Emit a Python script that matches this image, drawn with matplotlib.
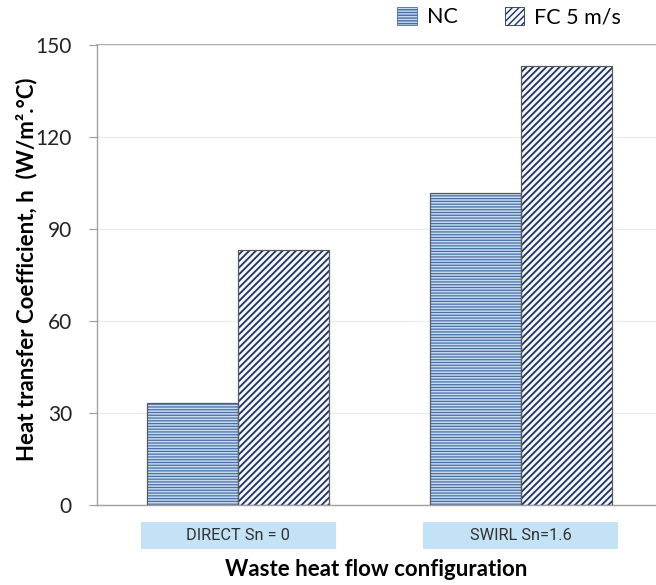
import numpy as np
import matplotlib
matplotlib.use("Agg")
import matplotlib.pyplot as plt
from matplotlib.patches import Rectangle, Patch
from matplotlib.transforms import blended_transform_factory

# data
categories = ["DIRECT Sn = 0", "SWIRL Sn=1.6"]
series = ["NC", "FC 5 m/s"]
nc_vals = [33.3, 101.6]
fc_vals = [83.0, 143.0]
y_ticks = [0, 30, 60, 90, 120, 150]

plt.rcParams["font.family"] = ["Lato", "DejaVu Sans"]

fig = plt.figure(figsize=(6.56, 5.85), dpi=100)
ax = fig.add_axes([97 / 656, 80 / 585, 565 / 656, 460 / 585])

x = np.arange(len(categories))
w = 0.323
styles = [
    dict(vals=nc_vals, off=-w / 2, face="#c5dbf2", hatch="------", hcol="#4a6fa5", hlw=0.9),
    dict(vals=fc_vals, off=w / 2, face="#f4f7fc", hatch="/////", hcol="#1f3360", hlw=1.3),
]
for s in styles:
    # hatch takes the edge colour, so draw fill+hatch first, outline on top
    with plt.rc_context({"hatch.linewidth": s["hlw"]}):
        ax.bar(x + s["off"], s["vals"], w, color=s["face"], edgecolor=s["hcol"],
               hatch=s["hatch"], linewidth=0, zorder=2)
    ax.bar(x + s["off"], s["vals"], w, fill=False, edgecolor="#5a5a5a",
           linewidth=0.9, zorder=3)

ax.set_xlim(-0.5, 1.5)
ax.set_ylim(0, 150)
ax.set_yticks(y_ticks)
ax.set_xticks([])
ax.tick_params(axis="y", length=6, width=0.9, color="#a0a0a0", pad=12,
               labelsize=15, labelcolor="#222222")
ax.grid(axis="y", color="#ececec", linewidth=0.9, zorder=0)
ax.axhline(150, color="#a0a0a0", linewidth=1.2, zorder=1, clip_on=False)
for side in ["top", "right"]:
    ax.spines[side].set_visible(False)
for side in ["left", "bottom"]:
    ax.spines[side].set_color("#a0a0a0")
    ax.spines[side].set_linewidth(1.0)

# category label boxes under the axis
trans = blended_transform_factory(ax.transData, ax.transAxes)
for xi, cat in zip(x, categories):
    ax.add_patch(Rectangle((xi - 0.345, -0.0957), 0.69, 0.0587, transform=trans,
                           facecolor="#c3e2f5", edgecolor="none", clip_on=False))
    ax.text(xi, -0.066, cat, transform=trans, ha="center", va="center",
            fontsize=11.8, color="#333333", family=["Roboto", "DejaVu Sans"])

fig.text(0.573, 0.026, "Waste heat flow configuration", ha="center",
         va="center", fontsize=16, fontweight="bold")
fig.text(0.041, 0.54, "Heat transfer Coefficient, h  (W/m\u00b2.\u00b0C)",
         rotation=90, ha="center", va="center", fontsize=16, fontweight="bold")

handles = []
for s in styles:
    with plt.rc_context({"hatch.linewidth": 0.7}):
        handles.append(Patch(facecolor=s["face"], edgecolor=s["hcol"],
                             hatch=s["hatch"], linewidth=0.6))
fig.legend(handles, series, loc="center", bbox_to_anchor=(0.776, 0.971),
           ncol=2, frameon=False, fontsize=15.5, handlelength=0.9,
           handleheight=0.9, columnspacing=2.2, handletextpad=0.45)

fig.savefig("out.png", dpi=100)
